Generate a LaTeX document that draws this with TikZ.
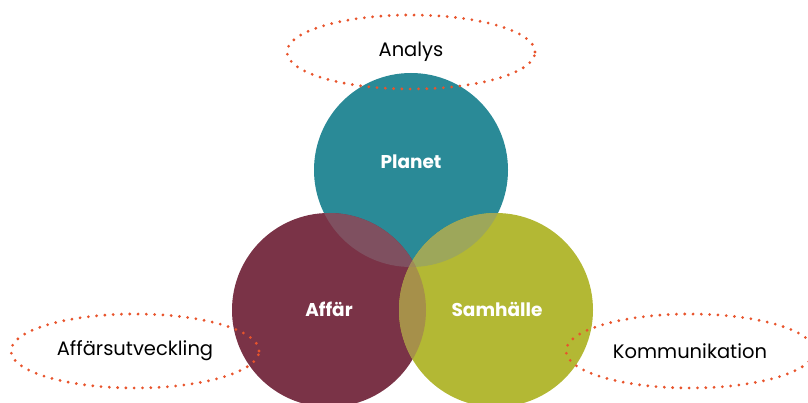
\documentclass[tikz,border=0pt]{standalone}
\usepackage{fontspec}
\setmainfont{Poppins}
\usetikzlibrary{shapes.geometric}
\definecolor{teal1}{HTML}{2A8A97}
\definecolor{maroon1}{HTML}{7A3347}
\definecolor{olive1}{HTML}{B3B834}
\definecolor{tmov}{HTML}{7F5060}
\definecolor{tolv}{HTML}{9DA75A}
\definecolor{molv}{HTML}{A6904A}
\definecolor{tri}{HTML}{A08A58}
\definecolor{dotc}{HTML}{E8542C}
\tikzset{
  venn/.style={circle, minimum size=194pt, inner sep=0pt, text=white, font=\fontsize{18.5}{22}\selectfont\bfseries},
  dotell/.style={ellipse, draw=dotc, line width=3.1pt, line cap=round, dash pattern=on 0pt off 8.3pt, minimum width=248pt, minimum height=74pt, inner sep=0pt, font=\fontsize{19.5}{23}\selectfont, text=black},
}
\begin{document}
\begin{tikzpicture}[x=1pt,y=-1pt]
\useasboundingbox (0,0) rectangle (808,403);
\node[venn, fill=teal1] (pl) at (411,170) {};
\node[venn, fill=maroon1] (af) at (329,310) {};
\node[venn, fill=olive1] (sa) at (496,310) {};
\begin{scope}
  \clip (pl.center) circle [radius=97pt];
  \fill[tmov] (af.center) circle [radius=97pt];
  \fill[tolv] (sa.center) circle [radius=97pt];
\end{scope}
\begin{scope}
  \clip (af.center) circle [radius=97pt];
  \fill[molv] (sa.center) circle [radius=97pt];
  \clip (pl.center) circle [radius=97pt];
  \fill[tri] (sa.center) circle [radius=97pt];
\end{scope}
\node[venn] (plt) at (411,162) {Planet};
\node[venn] (aft) at (329,309) {Affär};
\node[venn] (sat) at (497,309) {Samhälle};
\node[dotell] (an) at (411,52) {Analys};
\node[dotell] (au) at (135,351) {Affärsutveckling};
\node[dotell] (ko) at (690,351) {Kommunikation};
\end{tikzpicture}
\end{document}
